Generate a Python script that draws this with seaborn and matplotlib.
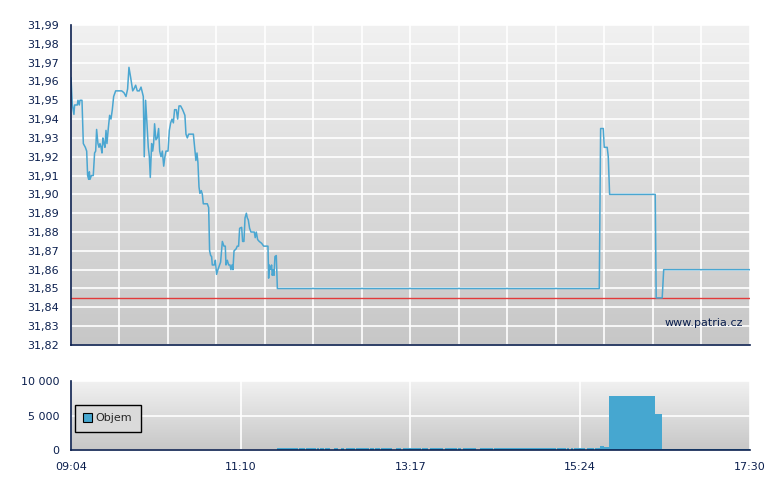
import numpy as np
import matplotlib
matplotlib.use("Agg")
from matplotlib import pyplot as plt
from matplotlib.colors import LinearSegmentedColormap
from matplotlib.ticker import FuncFormatter, FixedLocator
import seaborn as sns

# minutes after 09:04 and last price
price_t = [0, 1.0, 2.2, 2.7, 4.7, 5.2, 6.2, 6.7, 8.2, 9.2,
           10.7, 11.7, 12.4, 13.2, 13.7, 14.2, 15.2, 16.6, 17.6, 18.4,
           19.1, 20.1, 20.9, 21.6, 22.4, 23.1, 23.8, 24.6, 25.3, 26.1,
           26.8, 27.8, 28.8, 29.8, 30.8, 31.8, 33.3, 37.8, 39.5, 41.0,
           42.2, 43.2, 44.5, 46.0, 46.9, 48.2, 49.4, 50.9, 52.2, 52.9,
           53.9, 54.6, 55.6, 56.6, 57.6, 58.4, 59.1, 60.1, 60.9, 61.6,
           62.3, 63.3, 64.3, 65.3, 66.1, 67.1, 68.1, 69.1, 70.0, 70.8,
           72.3, 73.3, 74.3, 75.3, 76.3, 77.2, 78.5, 79.5, 80.5, 81.7,
           83.2, 84.9, 85.7, 86.7, 87.7, 91.2, 92.4, 93.1, 93.9, 94.6,
           95.4, 96.1, 97.1, 97.9, 98.6, 101.6, 102.6, 103.3, 104.1, 104.8,
           105.3, 106.8, 107.6, 108.5, 109.5, 110.5, 111.5, 112.8, 114.0, 115.0,
           115.5, 116.5, 117.5, 118.5, 119.2, 120.0, 120.7, 121.5, 123.0, 123.9,
           124.9, 125.7, 127.2, 127.9, 128.9, 129.7, 130.7, 131.4, 132.1, 133.1,
           134.1, 136.6, 137.3, 138.1, 139.1, 140.3, 142.1, 143.6, 146.8, 147.3,
           147.8, 148.8, 149.5, 150.0, 150.8, 151.3, 152.0, 153.0, 153.8,
           393.7, 394.7, 396.7, 397.4, 399.6, 400.4, 401.4, 435.4, 436.1, 440.6,
           441.7, 506]
price = [31.962, 31.9475, 31.9425, 31.9475, 31.9475, 31.950, 31.9475, 31.950, 31.950, 31.927,
         31.925, 31.923, 31.910, 31.908, 31.912, 31.908, 31.910, 31.910, 31.922, 31.923,
         31.9345, 31.927, 31.925, 31.927, 31.925, 31.922, 31.930, 31.927, 31.925, 31.934,
         31.927, 31.935, 31.942, 31.940, 31.945, 31.952, 31.955, 31.955, 31.954, 31.952,
         31.956, 31.9675, 31.962, 31.955, 31.956, 31.958, 31.955, 31.955, 31.957, 31.955,
         31.952, 31.920, 31.950, 31.938, 31.925, 31.920, 31.909, 31.927, 31.923, 31.927,
         31.9375, 31.929, 31.930, 31.935, 31.923, 31.920, 31.923, 31.915, 31.920, 31.923,
         31.923, 31.934, 31.938, 31.940, 31.938, 31.945, 31.945, 31.940, 31.947, 31.947,
         31.945, 31.942, 31.932, 31.930, 31.932, 31.932, 31.923, 31.918, 31.922, 31.917,
         31.904, 31.9005, 31.902, 31.900, 31.895, 31.895, 31.893, 31.870, 31.8675, 31.867,
         31.8625, 31.8625, 31.865, 31.8575, 31.860, 31.862, 31.864, 31.875, 31.8725, 31.8725,
         31.8625, 31.865, 31.8625, 31.8625, 31.860, 31.8625, 31.860, 31.870, 31.871, 31.8725,
         31.8725, 31.882, 31.8825, 31.875, 31.875, 31.8875, 31.890, 31.8875, 31.8865, 31.882,
         31.880, 31.880, 31.877, 31.880, 31.876, 31.875, 31.874, 31.8725, 31.8725, 31.8555,
         31.8625, 31.860, 31.8625, 31.857, 31.860, 31.857, 31.867, 31.8675, 31.850,
         31.850, 31.935, 31.935, 31.925, 31.925, 31.920, 31.900, 31.900, 31.845, 31.845,
         31.860, 31.860]
prev_close = 31.845

# volume intervals: start minute and shares (0 = no trades)
vol_t = [153.3, 168.9, 169.9, 174.6, 175.1, 182.6, 183.5, 184.8, 185.5, 188.7,
         189.3, 193.0, 196.0, 198.7, 201.0, 203.4, 204.9, 211.6, 212.4, 221.8,
         222.8, 225.6, 226.3, 230.3, 231.0, 239.0, 242.0, 245.9, 247.6, 260.6,
         261.5, 266.0, 267.3, 277.4, 278.7, 287.4, 288.6, 290.8, 291.9, 301.6,
         304.8, 314.7, 315.4, 361.4, 362.1, 368.9, 369.8, 371.3, 372.4, 373.8,
         374.8, 383.2, 384.7, 389.7, 390.7, 394.2, 397.2, 400.9, 435.2, 440.4]
vol_shares = [300, 0, 300, 0, 300, 0, 300, 0, 300, 0,
              300, 0, 300, 0, 300, 0, 300, 0, 300, 0,
              300, 0, 300, 0, 300, 0, 300, 0, 300, 0,
              300, 0, 300, 0, 300, 0, 300, 0, 300, 0,
              300, 0, 300, 0, 300, 0, 300, 0, 300, 0,
              300, 0, 300, 0, 300, 600, 450, 7800, 5200, 150]
session_end = 506

x_labels = ["09:04", "11:10", "13:17", "15:24", "17:30"]

navy = "#0b1f4e"
blue = "#4aa6d1"

sns.set_style("white")
plt.rcParams['font.family'] = ['DejaVu Sans']

fig = plt.figure(figsize=(7.8, 4.9), dpi=100)
ax = fig.add_axes([0.091, 0.296, 0.8705, 0.653])
ax2 = fig.add_axes([0.091, 0.0816, 0.8705, 0.1408])

grad = LinearSegmentedColormap.from_list("bg", ["#f1f1f1", "#c7c7c7"])
for a in (ax, ax2):
    a.imshow(np.linspace(0, 1, 256).reshape(-1, 1), cmap=grad, aspect="auto",
             extent=[0, 1, 0, 1], transform=a.transAxes, zorder=0)
    for s in ("top", "right"):
        a.spines[s].set_visible(False)
    for s in ("left", "bottom"):
        a.spines[s].set_color(navy)
        a.spines[s].set_linewidth(1.2)
        a.spines[s].set_zorder(5)
    a.tick_params(colors=navy, labelcolor=navy, length=5, width=1,
                  direction="out", labelsize=8)
    a.grid(True, color="white", lw=1.2, zorder=1)

# price panel
sns.lineplot(x=price_t, y=price, ax=ax, color=blue, lw=1.1,
             estimator=None, sort=False, zorder=4)
ax.axhline(prev_close, color="#e23a3a", lw=1, zorder=3)
ax.set_xlim(0, session_end)
ax.set_ylim(31.82, 31.99)
ax.yaxis.set_major_locator(FixedLocator(np.arange(31.82, 31.9951, 0.01)))
ax.yaxis.set_major_formatter(FuncFormatter(lambda v, p: f"{v:.2f}".replace(".", ",")))
ax.xaxis.set_major_locator(FixedLocator(np.linspace(0, session_end, 15)))
ax.set_xticklabels([])
ax.set_xlabel("")
ax.set_ylabel("")
ax.text(0.99, 0.07, "www.patria.cz", transform=ax.transAxes, ha="right",
        va="center", color=navy, fontsize=8, zorder=6)

# volume panel
sns.histplot(x=vol_t, weights=vol_shares, bins=vol_t + [session_end], ax=ax2,
             color="#46a7d0", alpha=1, linewidth=0, label="Objem", zorder=4)
ax2.set_xlim(0, session_end)
ax2.set_ylim(0, 10000)
ax2.yaxis.set_major_locator(FixedLocator([0, 5000, 10000]))
ax2.yaxis.set_major_formatter(FuncFormatter(lambda v, p: f"{int(v):,}".replace(",", " ")))
ax2.xaxis.set_major_locator(FixedLocator(np.linspace(0, session_end, 5)))
ax2.set_xticklabels(x_labels)
ax2.set_xlabel("")
ax2.set_ylabel("")
leg = ax2.legend(loc="upper left", bbox_to_anchor=(0.006, 0.655), borderaxespad=0,
                 fontsize=8, handlelength=0.8, handleheight=0.8, handletextpad=0.3,
                 borderpad=0.75, fancybox=False, framealpha=1)
leg.get_frame().set_edgecolor("black")
leg.get_frame().set_facecolor("#dadada")
for h in leg.legend_handles:
    h.set_edgecolor("black")
    h.set_linewidth(0.8)

fig.savefig("out.png", dpi=100, facecolor="white")
